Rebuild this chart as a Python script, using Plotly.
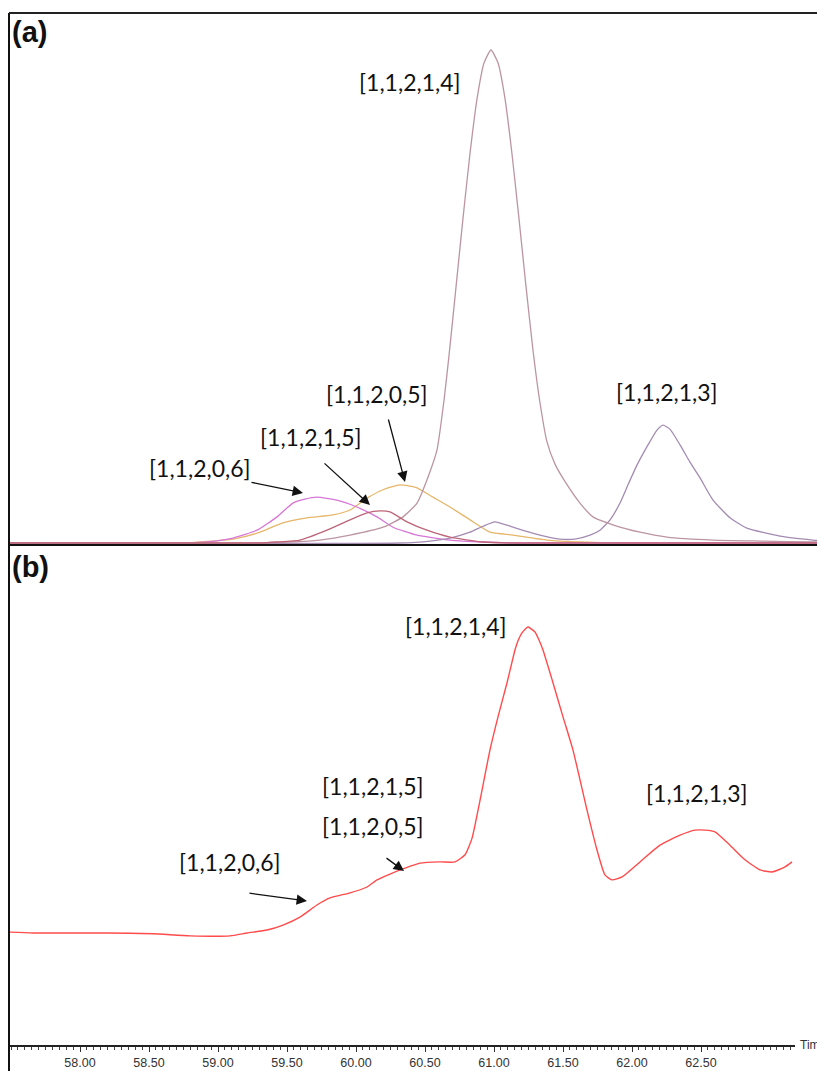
import plotly.graph_objects as go

# ---------------- data ----------------
# Panel (a): extracted ion chromatograms, relative intensity (%)
t_1121_4 = [57.478, 59.232, 59.522, 59.739, 59.957, 60.196, 60.341, 60.442, 60.514, 60.587, 60.638,
            60.674, 60.725, 60.775, 60.826, 60.877, 60.928, 60.978, 61.029, 61.080, 61.130, 61.181,
            61.232, 61.283, 61.333, 61.384, 61.442, 61.514, 61.623, 61.717, 61.862, 62.058,
            62.254, 62.587, 62.949, 63.312, 63.399]
i_1121_4 = [0.0, 0.0, 0.2, 0.6, 1.6, 3.2, 5.3, 8.1, 12.8, 18.9, 29.0,
            38.0, 52.0, 65.8, 79.0, 90.1, 97.4, 100.0, 97.4, 90.1, 79.0, 65.8,
            52.0, 39.0, 28.5, 20.5, 16.0, 12.5, 8.1, 5.3, 3.7, 2.2,
            1.2, 0.6, 0.4, 0.2, 0.2]

t_1121_3 = [57.478, 60.319, 60.536, 60.681, 60.826, 60.920, 61.007, 61.138, 61.333, 61.478, 61.587,
            61.696, 61.768, 61.841, 61.913, 61.971, 62.036, 62.116, 62.181, 62.225, 62.275, 62.348,
            62.420, 62.493, 62.587, 62.710, 62.833, 63.072, 63.312, 63.399]
i_1121_3 = [0.0, 0.0, 0.4, 1.0, 2.2, 3.4, 4.3, 3.2, 1.6, 0.8, 0.8,
            1.6, 2.6, 4.7, 8.1, 11.8, 15.8, 19.9, 22.9, 23.9, 23.1, 19.9,
            16.4, 13.2, 8.7, 5.1, 3.0, 1.4, 0.6, 0.4]

t_1120_6 = [57.478, 58.797, 58.920, 59.109, 59.283, 59.428, 59.543, 59.630, 59.717, 59.862, 60.007,
            60.152, 60.268, 60.442, 60.681, 60.920, 61.188, 63.399]
i_1120_6 = [0.0, 0.0, 0.2, 1.0, 2.6, 5.3, 8.1, 8.9, 9.3, 8.7, 7.3,
            5.3, 3.2, 1.6, 0.6, 0.2, 0.0, 0.0]

t_1120_5 = [57.478, 58.761, 58.870, 59.109, 59.283, 59.471, 59.645, 59.833, 59.957, 60.080, 60.196,
            60.319, 60.442, 60.558, 60.681, 60.826, 60.971, 61.138, 61.384, 61.623, 61.913, 63.399]
i_1120_5 = [0.0, 0.0, 0.2, 0.8, 2.0, 4.1, 5.1, 5.7, 6.7, 9.1, 10.8,
            11.8, 11.2, 9.3, 7.3, 4.7, 2.2, 1.6, 0.6, 0.2, 0.0, 0.0]

t_1121_5 = [57.478, 59.304, 59.428, 59.594, 59.790, 59.957, 60.080, 60.174, 60.246, 60.370, 60.514,
            60.681, 60.920, 61.116, 63.399]
i_1121_5 = [0.0, 0.0, 0.2, 0.6, 2.6, 4.7, 6.1, 6.5, 6.3, 4.3, 2.6,
            1.2, 0.2, 0.0, 0.0]

# Panel (b): total ion chromatogram, relative intensity (%)
t_tic = [57.493, 57.659, 58.196, 58.529, 58.797, 59.087, 59.210, 59.355, 59.471, 59.594, 59.717,
         59.812, 59.957, 60.080, 60.152, 60.246, 60.355, 60.464, 60.609, 60.717, 60.790, 60.841,
         60.899, 60.971, 61.029, 61.094, 61.152, 61.174, 61.203, 61.246, 61.297, 61.326, 61.355,
         61.428, 61.500, 61.572, 61.674, 61.746, 61.804, 61.855, 61.928, 62.058, 62.203, 62.348,
         62.457, 62.529, 62.601, 62.710, 62.819, 62.928, 63.014, 63.109, 63.159]
i_tic = [27.0, 26.8, 26.8, 26.6, 26.1, 26.1, 26.8, 27.5, 28.7, 30.6, 33.5,
         35.2, 36.4, 37.8, 39.5, 40.9, 42.3, 43.5, 43.8, 43.8, 45.5, 49.5,
         58.6, 70.6, 78.5, 86.6, 94.5, 96.7, 98.6, 100.0, 98.8, 96.9, 94.5,
         86.6, 78.5, 70.6, 56.2, 46.7, 40.7, 39.5, 40.2, 43.8, 47.8, 50.2,
         51.4, 51.4, 51.0, 47.8, 44.3, 41.9, 41.4, 42.6, 43.8]

species = ["[1,1,2,1,4]", "[1,1,2,1,3]", "[1,1,2,0,5]", "[1,1,2,1,5]", "[1,1,2,0,6]"]
tick_vals = [58.0, 58.5, 59.0, 59.5, 60.0, 60.5, 61.0, 61.5, 62.0, 62.5]
tick_text = ["58.00", "58.50", "59.00", "59.50", "60.00", "60.50", "61.00", "61.50", "62.00", "62.50"]

# ---------------- figure ----------------
# The page body has an 8px margin: the figure starts at (8, 8) in the screenshot.
OFF = 8
W, H = 825 - OFF, 1071 - OFF
ML, MT, MB = 0, 13 - OFF, 1071 - 1045
PW, PH = W - ML, H - MT - MB


def px(x, y):
    """reference-screenshot pixel -> paper coordinates"""
    fx, fy = x - OFF, y - OFF
    return (fx - ML) / PW, (H - MB - fy) / PH


def tpx(x):
    return 58 + (x - 80) / 138


fig = go.Figure()

top_traces = [
    (t_1120_5, i_1120_5, "#e6b66a", species[2]),
    (t_1120_6, i_1120_6, "#d677d6", species[4]),
    (t_1121_3, i_1121_3, "#a48bb2", species[1]),
    (t_1121_4, i_1121_4, "#bc95a2", species[0]),
    (t_1121_5, i_1121_5, "#bd6478", species[3]),
]
for tx, iy, col, name in top_traces:
    fig.add_trace(go.Scatter(x=tx, y=iy, mode="lines", name=name,
                             line=dict(color=col, width=1.3, shape="spline", smoothing=0.5),
                             xaxis="x2", yaxis="y"))

fig.add_trace(go.Scatter(x=t_tic, y=i_tic, mode="lines", name="TIC",
                         line=dict(color="#ff4b4b", width=1.4, shape="spline", smoothing=0.5),
                         xaxis="x", yaxis="y2"))

sep = px(0, 545)[1]
axis_end = px(795, 0)[0]

fig.update_layout(
    width=W, height=H,
    margin=dict(l=ML, r=0, t=MT, b=MB),
    paper_bgcolor="white", plot_bgcolor="white",
    showlegend=False,
    xaxis=dict(domain=[0, axis_end],
               range=[tpx(OFF), tpx(795)],
               anchor="y2", showgrid=False, zeroline=False,
               showline=True, linecolor="#222", linewidth=1.5,
               ticks="outside", ticklen=5, tickwidth=1, tickcolor="#333",
               tickvals=tick_vals, ticktext=tick_text,
               tickfont=dict(family="Liberation Sans, Arial", size=12.5, color="#333"),
               minor=dict(dtick=0.05, tick0=58, ticks="outside", ticklen=3,
                          tickwidth=1, tickcolor="#444", showgrid=False)),
    xaxis2=dict(domain=[0, 1], range=[tpx(OFF), tpx(825)], anchor="y", visible=False),
    yaxis=dict(domain=[sep, 1], range=[-2 / 4.93, (543 - 13) / 4.93], visible=False),
    yaxis2=dict(domain=[0, sep], range=[0, 500 / 4.18], visible=False),
)

# frame lines
lx = px(9, 0)[0]
shapes = [
    dict(type="line", xref="paper", yref="paper", x0=lx, x1=lx,
         y0=1, y1=px(0, 1071)[1], line=dict(color="#111", width=2)),
    dict(type="line", xref="paper", yref="paper", x0=lx, x1=1.02,
         y0=1, y1=1, line=dict(color="#222", width=2)),
    dict(type="line", xref="paper", yref="paper", x0=lx, x1=1.02,
         y0=sep, y1=sep, line=dict(color="#111", width=2)),
]
fig.update_layout(shapes=shapes)

ann_font = dict(family="Lato, Open Sans, sans-serif", size=23, color="#111")


def label(text, x, y, font=ann_font, xanchor="center"):
    ax_, ay_ = px(x, y)
    fig.add_annotation(x=ax_, y=ay_, xref="paper", yref="paper", text=text,
                       showarrow=False, xanchor=xanchor, yanchor="middle", font=font)


def arrow(tx, ty, hx, hy):
    hx_, hy_ = px(hx, hy)
    fig.add_annotation(x=hx_, y=hy_, xref="paper", yref="paper", text="",
                       showarrow=True, ax=tx - hx, ay=ty - hy,
                       arrowhead=2, arrowsize=1.6, arrowwidth=1.3, arrowcolor="#111",
                       standoff=0, startstandoff=0)


panel_font = dict(family="Liberation Sans, Arial", size=29, color="#111")
label("<b>(a)</b>", 10, 32, panel_font, "left")
label("<b>(b)</b>", 10, 567, panel_font, "left")

# panel (a) labels
label(species[0], 410, 82)
label(species[1], 667, 392)
label(species[2], 377, 394)
label(species[3], 311, 437)
label(species[4], 200, 468)
arrow(388, 418, 405, 482)
arrow(323, 462, 370, 505)
arrow(250, 482, 303, 493)

# panel (b) labels
label(species[0], 456, 626)
label(species[3], 373, 786)
label(species[2], 373, 826)
label(species[1], 697, 793)
label(species[4], 230, 862)
arrow(248, 893, 307, 901)
arrow(385, 857, 404, 871)

label("Time", 798, 1045, dict(family="Liberation Sans, Arial", size=12, color="#333"), "left")

fig.write_html("out.html")
